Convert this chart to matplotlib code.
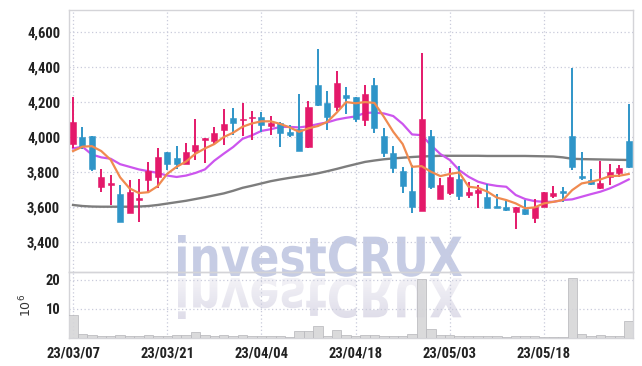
import matplotlib
matplotlib.use("Agg")
from matplotlib import pyplot as plt
from matplotlib.textpath import TextPath
from matplotlib.patches import PathPatch
from matplotlib.font_manager import FontProperties, fontManager
from matplotlib.transforms import Affine2D
from matplotlib.ticker import FuncFormatter
import numpy as np

dates = ["23/03/07", "23/03/08", "23/03/09", "23/03/10", "23/03/13", "23/03/14", "23/03/15",
         "23/03/16", "23/03/17", "23/03/20", "23/03/21", "23/03/22", "23/03/23", "23/03/24",
         "23/03/27", "23/03/28", "23/03/29", "23/03/30", "23/03/31", "23/04/03", "23/04/04",
         "23/04/05", "23/04/06", "23/04/07", "23/04/10", "23/04/11", "23/04/12", "23/04/13",
         "23/04/14", "23/04/17", "23/04/18", "23/04/19", "23/04/20", "23/04/21", "23/04/24",
         "23/04/25", "23/04/26", "23/04/27", "23/04/28", "23/05/02", "23/05/03", "23/05/04",
         "23/05/08", "23/05/09", "23/05/10", "23/05/11", "23/05/12", "23/05/15", "23/05/16",
         "23/05/17", "23/05/18", "23/05/19", "23/05/22", "23/05/23", "23/05/24", "23/05/25",
         "23/05/26", "23/05/30", "23/05/31", "23/06/01"]

opens = [3958, 3998, 4005, 3716, 3728, 3672, 3567, 3640, 3756, 3770,
         3916, 3878, 3848, 3920, 3984, 3979, 4040, 4109, 4096, 4107,
         4116, 4065, 4078, 4030, 4046, 3941, 4297, 4193, 4170, 4240,
         4227, 4097, 4297, 4006, 3907, 3806, 3691, 3579, 4006, 3648,
         3682, 3760, 3670, 3682, 3657, 3606, 3598, 3570, 3589, 3535,
         3598, 3665, 3686, 4006, 3777, 3752, 3707, 3770, 3796, 3977]
highs = [4230, 4055, 4005, 3815, 3785, 3726, 3754, 3760, 3855, 3935,
         3916, 3950, 3967, 4101, 3995, 4055, 4160, 4164, 4193, 4150,
         4143, 4120, 4085, 4069, 4246, 4205, 4501, 4265, 4379, 4284,
         4230, 4300, 4335, 4050, 3950, 3830, 3840, 4478, 4040, 3764,
         3821, 3834, 3745, 3724, 3730, 3672, 3634, 3600, 3640, 3644,
         3686, 3721, 3716, 4392, 3916, 3815, 3865, 3844, 3840, 4187]
lows = [3937, 3930, 3805, 3684, 3610, 3516, 3567, 3515, 3685, 3710,
        3811, 3815, 3846, 3870, 3850, 3955, 3954, 4011, 4008, 3983,
        4030, 4011, 3945, 3998, 3922, 3937, 4177, 4040, 4150, 4132,
        4085, 4063, 4025, 3884, 3796, 3682, 3564, 3579, 3701, 3645,
        3669, 3640, 3650, 3593, 3593, 3593, 3580, 3473, 3555, 3507,
        3598, 3650, 3630, 3811, 3754, 3728, 3705, 3726, 3773, 3821]
closes = [4087, 3950, 3815, 3770, 3735, 3516, 3686, 3647, 3806, 3887,
          3846, 3846, 3912, 3954, 3993, 4024, 4074, 4082, 4103, 4116,
          4071, 4082, 4025, 4013, 3922, 4170, 4183, 4116, 4307, 4225,
          4105, 4246, 4050, 3910, 3821, 3722, 3600, 4101, 3716, 3726,
          3771, 3665, 3686, 3699, 3596, 3596, 3585, 3598, 3558, 3598,
          3684, 3680, 3680, 3827, 3767, 3730, 3737, 3798, 3823, 3830]
volumes = [7.9, 1.4, 1.0, 0.7, 0.7, 1.0, 0.7, 0.7, 1.0, 0.7,
           0.7, 1.0, 1.0, 2.0, 1.0, 0.7, 1.0, 0.7, 1.0, 0.7,
           0.7, 0.7, 0.7, 0.5, 2.4, 2.4, 4.0, 0.7, 2.8, 1.0,
           0.7, 1.0, 1.0, 0.7, 0.7, 0.7, 1.4, 20.3, 3.1, 1.0,
           1.0, 0.7, 0.7, 0.7, 0.7, 0.7, 0.5, 0.7, 0.7, 0.7,
           0.5, 0.5, 0.5, 20.6, 1.4, 0.7, 1.2, 0.7, 0.7, 5.9]
ma_short = [3920, 3945, 3948, 3920, 3870, 3770, 3707, 3680, 3685, 3720,
            3790, 3830, 3860, 3905, 3935, 3960, 4000, 4025, 4059, 4078,
            4090, 4090, 4075, 4055, 4030, 4050, 4063, 4087, 4140, 4200,
            4193, 4200, 4195, 4116, 4030, 3960, 3830, 3834, 3802, 3777,
            3789, 3798, 3716, 3710, 3688, 3654, 3640, 3621, 3593, 3598,
            3621, 3630, 3640, 3697, 3735, 3745, 3758, 3777, 3779, 3789]
ma_mid = [3935, 3945, 3900, 3884, 3876, 3845, 3830, 3815, 3805, 3795,
          3780, 3772, 3780, 3795, 3815, 3865, 3905, 3943, 3990, 4010,
          4035, 4045, 4058, 4058, 4055, 4062, 4074, 4084, 4100, 4110,
          4118, 4138, 4140, 4135, 4120, 4075, 4015, 4011, 3954, 3903,
          3869, 3811, 3773, 3745, 3730, 3721, 3716, 3669, 3646, 3634,
          3630, 3630, 3640, 3644, 3659, 3674, 3688, 3707, 3731, 3758]
ma_long = [3612, 3606, 3603, 3602, 3602, 3602, 3602, 3603, 3606, 3612,
           3620, 3628, 3636, 3646, 3656, 3667, 3678, 3693, 3710, 3722,
           3735, 3748, 3758, 3767, 3775, 3783, 3793, 3805, 3818, 3832,
           3845, 3858, 3866, 3873, 3878, 3882, 3886, 3889, 3891, 3893,
           3893, 3893, 3893, 3893, 3892, 3892, 3892, 3892, 3892, 3891,
           3890, 3889, 3884, 3876, 3874, 3873, 3872, 3871, 3870, 3869]

UP = "#e4196a"
DOWN = "#2f95c8"
GRID = "#c9cbdb"
SPINE = "#d4d4d8"

installed = {f.name for f in fontManager.ttflist}
label_fam = [f for f in ["Liberation Sans Narrow", "Roboto Condensed", "Roboto"] if f in installed]
plt.rcParams["font.family"] = label_fam + ["DejaVu Sans"]
narrow = label_fam and label_fam[0] != "Roboto"
tick_size = 10.5 if narrow else 9.5

W, H = 642, 366
fig = plt.figure(figsize=(W / 100, H / 100), dpi=100)
fig.patch.set_facecolor("white")

left, right = 68.5, 632.5
ax = fig.add_axes([left / W, 1 - 272 / H, (right - left) / W, (272 - 10) / H])
axv = fig.add_axes([left / W, 1 - 338 / H, (right - left) / W, (338 - 272) / H], sharex=ax)

x = np.arange(len(opens))
o = np.array(opens)
c = np.array(closes)
up = c >= o
cols = np.where(up, UP, DOWN)
body_lo = np.minimum(o, c)
body_h = np.maximum(np.abs(c - o), 10)

ax.vlines(x, lows, highs, colors=cols, linewidth=1.4, zorder=3)
ax.bar(x, body_h, bottom=body_lo, width=0.64, color=cols, edgecolor=cols, linewidth=0.4, zorder=4)

ax.plot(x, ma_long, color="#7d7d7d", linewidth=1.7, zorder=2)
ax.plot(x, ma_mid, color="#cc55ee", linewidth=1.6, zorder=2)
ax.plot(x, ma_short, color="#f08a4f", linewidth=1.6, zorder=5)

ax.set_xlim(-0.48, 59.4)
ax.set_ylim(3229, 4726)
ax.set_yticks([3400, 3600, 3800, 4000, 4200, 4400, 4600])
ax.yaxis.set_major_formatter(FuncFormatter(lambda v, p: f"{v:,.0f}"))

axv.bar(x, volumes, width=1.0, color="#d6d6d8", edgecolor="#b9b9bd", linewidth=0.6, alpha=0.9, zorder=3)
axv.set_ylim(0, 22.7)
axv.set_yticks([10, 20])
axv.set_ylabel("10$^6$", fontsize=9, family="DejaVu Sans", color="#333333", labelpad=8)

ticks = list(range(0, 60, 10))
axv.set_xticks(ticks)
axv.set_xticklabels([dates[t] for t in ticks])

for a in (ax, axv):
    a.patch.set_alpha(0)
    a.grid(True, color=GRID, linestyle=(0, (1, 2)), linewidth=0.9)
    a.set_axisbelow(True)
    a.tick_params(length=0, labelsize=tick_size, labelcolor="#222222", pad=6)
    for lab in a.get_xticklabels() + a.get_yticklabels():
        lab.set_fontweight("bold")
    for s in a.spines.values():
        s.set_color(SPINE)
        s.set_linewidth(1.0)
ax.tick_params(labelbottom=False)

# watermark with faded reflection
fp = FontProperties(family="DejaVu Sans", weight="bold")
tp = TextPath((0, 0), "investCRUX", size=100, prop=fp)
ext = tp.get_extents()
sx = 284 / ext.width
sy = 41 / ext.y1
x0, base_y = 178, H - 276
tr = Affine2D().translate(-ext.x0, 0).scale(sx, sy).translate(x0, base_y)
fig.add_artist(PathPatch(tp, transform=tr, facecolor="#c6cce4", edgecolor="none", zorder=-1))

wm = fig.add_axes([0, 0, 1, 1], zorder=-1)
wm.set_axis_off()
wm.set_xlim(0, W)
wm.set_ylim(0, H)
tr2 = Affine2D().translate(-ext.x0, 0).scale(sx, -sy).translate(x0, base_y - 2)
clip = PathPatch(tp, transform=tr2, facecolor="none", edgecolor="none")
wm.add_patch(clip)
grad = np.zeros((64, 2, 4))
grad[..., 0] = 0.87
grad[..., 1] = 0.86
grad[..., 2] = 0.91
grad[..., 3] = np.linspace(1.0, 0.35, 64)[:, None]
img = wm.imshow(grad, extent=(x0, x0 + 290, base_y - 2, base_y - 46), origin="upper",
                aspect="auto", interpolation="bilinear")
img.set_clip_path(clip)
wm.set_xlim(0, W)
wm.set_ylim(0, H)

fig.savefig("out.png", dpi=100)
